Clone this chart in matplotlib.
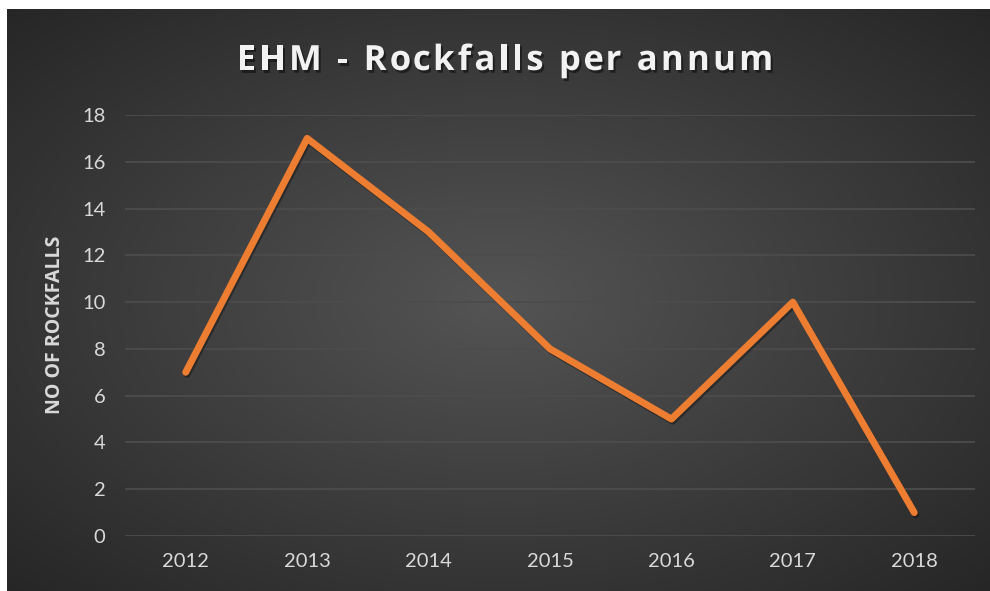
import numpy as np
import matplotlib
matplotlib.use('Agg')
import matplotlib.pyplot as plt
import matplotlib.patheffects as pe

years = ['2012', '2013', '2014', '2015', '2016', '2017', '2018']
rockfalls = [7, 17, 13, 8, 5, 10, 1]
y_ticks = [0, 2, 4, 6, 8, 10, 12, 14, 16, 18]

W, H = 990, 591
fig = plt.figure(figsize=(W / 100, H / 100), dpi=100)
fig.patch.set_facecolor('white')

# dunkler Hintergrund mit radialem Verlauf
bg = fig.add_axes([7 / W, 0, 1 - 7 / W, 1 - 9 / H])
bg.set_axis_off()
gx, gy = np.meshgrid(np.linspace(-1, 1, 400), np.linspace(-1, 1, 240))
r = np.sqrt(gx ** 2 + gy ** 2) / np.sqrt(2)
shade = 0.33 - 0.18 * r
img = np.dstack([shade, shade, shade])
bg.imshow(img, aspect='auto', extent=[0, 1, 0, 1], interpolation='bicubic')

# Diagrammfläche
left, right = 125 / W, 975 / W
bottom, top = 1 - 536 / H, 1 - 115 / H
ax = fig.add_axes([left, bottom, right - left, top - bottom])
ax.patch.set_alpha(0)

x = np.arange(len(years))
ax.plot(x, rockfalls, color='#ED7D31', lw=5, solid_capstyle='round',
        solid_joinstyle='round', zorder=3,
        path_effects=[pe.SimpleLineShadow(offset=(1, -1.5), alpha=0.35), pe.Normal()])

ax.set_xlim(-0.5, len(years) - 0.5)
ax.set_ylim(0, 18)
ax.set_yticks(y_ticks)
ax.set_xticks(x)
ax.set_xticklabels(years)
ax.grid(axis='y', color='#4c4c4c', lw=1.3)
ax.set_axisbelow(True)
for s in ax.spines.values():
    s.set_visible(False)
ax.tick_params(length=0, colors='#d9d9d9', labelsize=14.5, pad=14)
ax.tick_params(axis='x', pad=12)
for lab in ax.get_xticklabels() + ax.get_yticklabels():
    lab.set_family('Lato')

fig.text(55 / W, 1 - 325 / H, 'NO OF ROCKFALLS', rotation=90, ha='center', va='center',
         color='#d9d9d9', fontsize=14, fontweight='bold', family='Open Sans')

# Titel mit etwas Sperrung, Buchstabe für Buchstabe gesetzt
title = 'EHM - Rockfalls per annum'
tracking = 3.2  # px zwischen den Buchstaben
shadow = [pe.withSimplePatchShadow(offset=(1.5, -2), shadow_rgbFace='black', alpha=0.45)]
renderer = fig.canvas.get_renderer()
parts = []
for ch in title:
    t = fig.text(0, 1 - 70 / H, ch, ha='left', va='baseline', color='#f2f2f2',
                 fontsize=25, fontweight='bold', family='Open Sans', path_effects=shadow)
    parts.append(t)
# Breite pro Buchstabe über Paare ermitteln (berücksichtigt Leerzeichen)
widths = []
for ch in title:
    probe = fig.text(0, 0, 'x' + ch + 'x', fontsize=25, fontweight='bold', family='Open Sans')
    px = fig.text(0, 0, 'xx', fontsize=25, fontweight='bold', family='Open Sans')
    w = probe.get_window_extent(renderer).width - px.get_window_extent(renderer).width
    probe.remove()
    px.remove()
    widths.append(w)
total = sum(widths) + tracking * (len(title) - 1)
xpos = 505 - total / 2
for t, w in zip(parts, widths):
    t.set_x(xpos / W)
    xpos += w + tracking

fig.savefig('out.png', dpi=100, facecolor=fig.get_facecolor())
